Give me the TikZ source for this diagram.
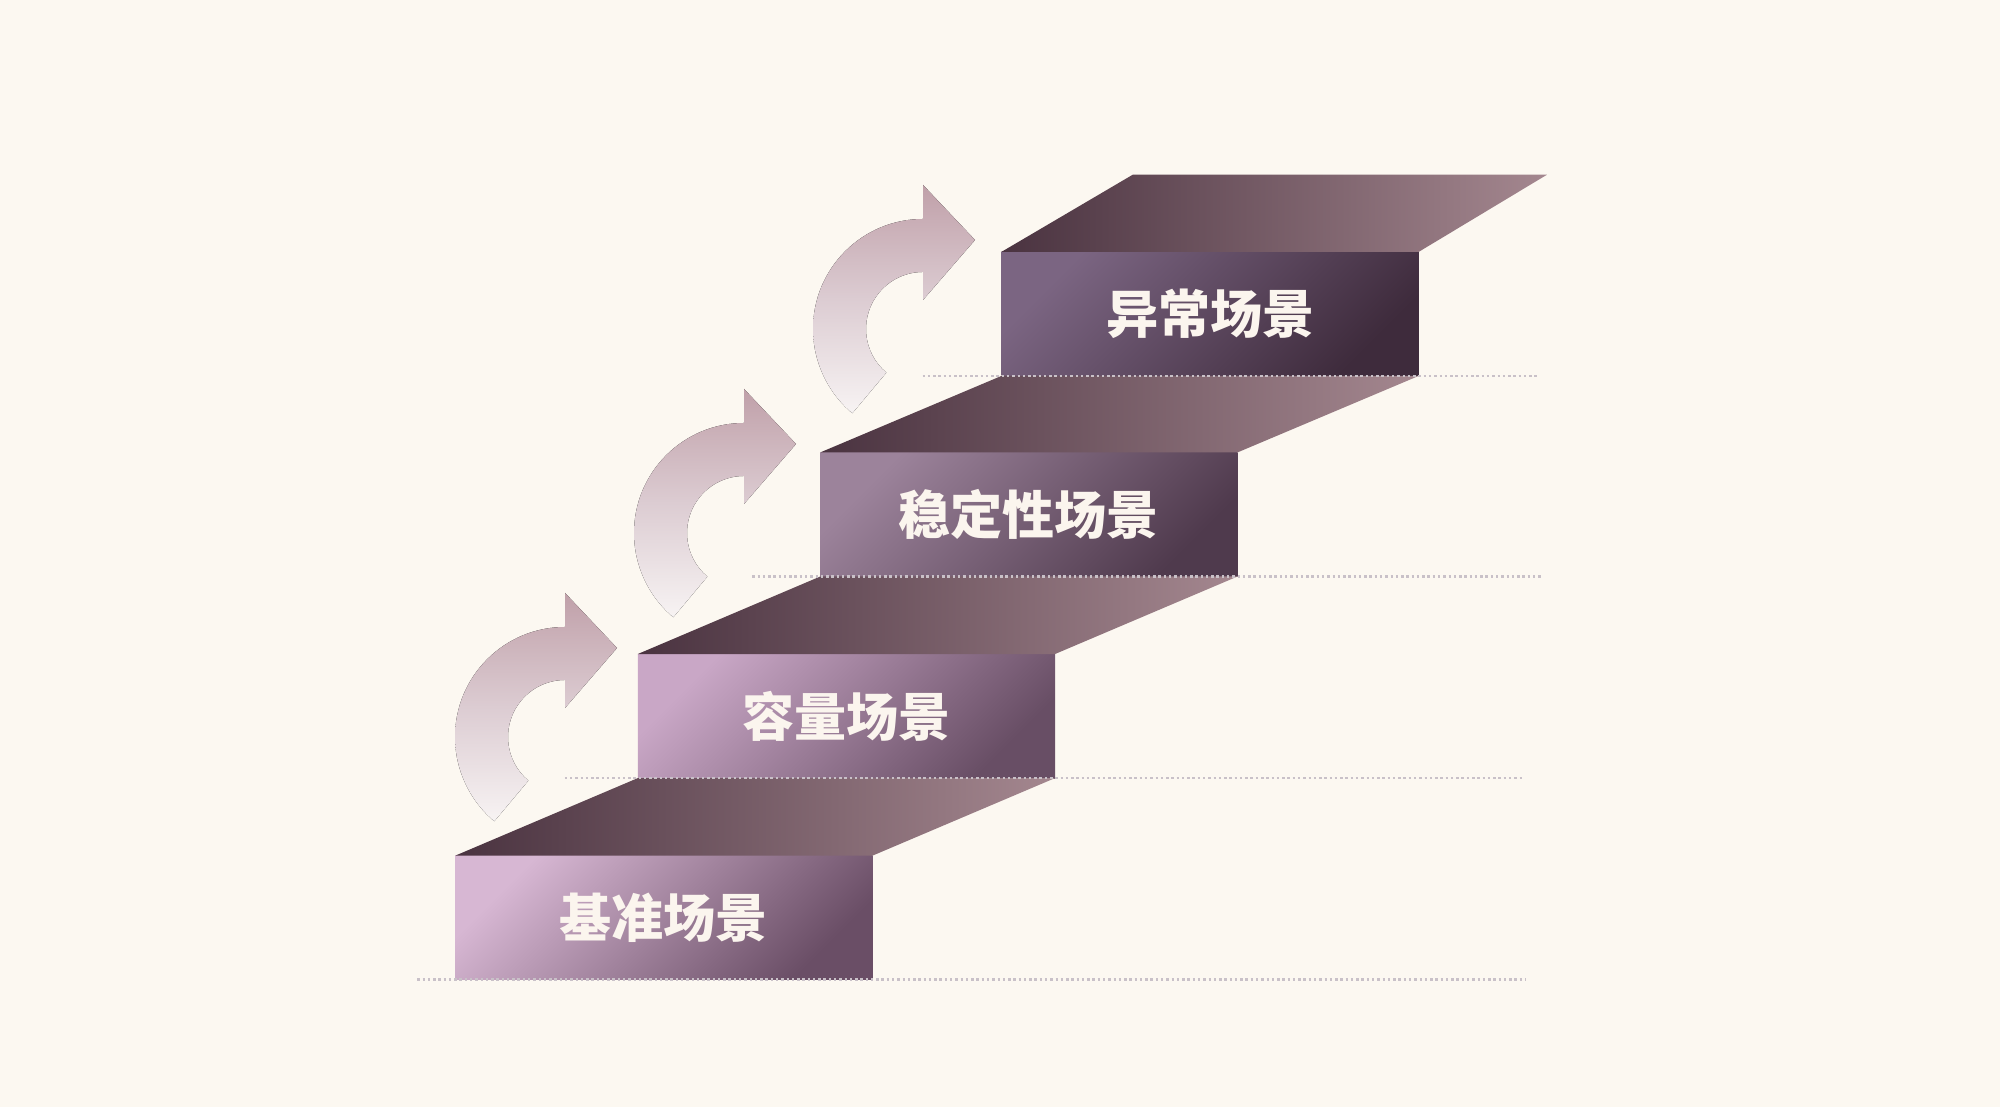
\documentclass[tikz,border=0pt]{standalone}
\usepackage{fontspec}
\newfontfamily\cjk{Noto Sans CJK SC}
\usetikzlibrary{positioning, shadings}

\definecolor{paper}{HTML}{FCF8F1}
\definecolor{label}{HTML}{FBF5EE}
\definecolor{dots}{HTML}{C9C1C8}

\tikzstyle{front} = [rectangle, minimum width=4.17cm, minimum height=1.24cm, inner sep=0pt, outer sep=0pt, text=label, font=\cjk\bfseries\fontsize{14.8}{16}\selectfont]
\tikzstyle{shadeA} = [top color={rgb,255:red,215;green,183;blue,211}, bottom color={rgb,255:red,106;green,78;blue,102}, shading angle=45]
\tikzstyle{shadeB} = [top color={rgb,255:red,201;green,167;blue,198}, bottom color={rgb,255:red,104;green,78;blue,101}, shading angle=45]
\tikzstyle{shadeC} = [top color={rgb,255:red,156;green,131;blue,155}, bottom color={rgb,255:red,79;green,58;blue,77}, shading angle=45]
\tikzstyle{shadeD} = [top color={rgb,255:red,123;green,101;blue,130}, bottom color={rgb,255:red,62;green,43;blue,60}, shading angle=45]
\tikzstyle{topface} = [left color={rgb,255:red,74;green,51;blue,64}, right color={rgb,255:red,164;green,135;blue,143}]
\tikzstyle{guide} = [dots, line width=0.75pt, dash pattern=on 0.7pt off 0.8pt]
\tikzstyle{arrowfill} = [top color={rgb,255:red,192;green,160;blue,169}, bottom color={rgb,255:red,247;green,243;blue,243}, middle color={rgb,255:red,220;green,204;blue,210}]

\tikzset{pics/turnarrow/.style={code={
  \fill[arrowfill] (0,110) arc[start angle=90, end angle=230, radius=110]
    -- (230:57) arc[start angle=230, end angle=90, radius=57]
    -- (0,29) -- (52,89) -- (0,144) -- cycle;
}}}

\begin{document}
\begin{tikzpicture}[x=0.01cm, y=0.01cm]
   \fill[paper] (0,0) rectangle (2000,1107);
   \useasboundingbox (0,0) rectangle (2000,1107);

   % curved arrows
   \pic at (565,370) {turnarrow};
   \pic at (744,574) {turnarrow};
   \pic at (923,778) {turnarrow};

   % steps
   \node (s1) [front, shadeA] at (663.9,189.3) {基准场景};
   \node (s2) [front, shadeB, above=0.775cm of s1, xshift=1.824cm] {容量场景};
   \node (s3) [front, shadeC, above=0.775cm of s2, xshift=1.824cm] {稳定性场景};
   \node (s4) [front, shadeD, above=0.765cm of s3, xshift=1.812cm] {异常场景};
   \coordinate [above right=0.77cm and 1.31cm of s4.north west] (t4l);
   \coordinate [above right=0.77cm and 1.28cm of s4.north east] (t4r);

   \shade[topface] (s1.north west) -- (s1.north east) -- (s2.south east) -- (s2.south west) -- cycle;
   \shade[topface] (s2.north west) -- (s2.north east) -- (s3.south east) -- (s3.south west) -- cycle;
   \shade[topface] (s3.north west) -- (s3.north east) -- (s4.south east) -- (s4.south west) -- cycle;
   \shade[topface] (s4.north west) -- (s4.north east) -- (t4r) -- (t4l) -- cycle;

   % dotted base lines
   \draw[guide] ([xshift=-0.38cm]s1.south west) -- ([xshift=6.53cm]s1.south east);
   \draw[guide] ([xshift=-0.73cm]s2.south west) -- ([xshift=4.68cm]s2.south east);
   \draw[guide] ([xshift=-0.68cm]s3.south west) -- ([xshift=3.04cm]s3.south east);
   \draw[guide] ([xshift=-0.79cm]s4.south west) -- ([xshift=1.19cm]s4.south east);
  \end{tikzpicture}
\end{document}
